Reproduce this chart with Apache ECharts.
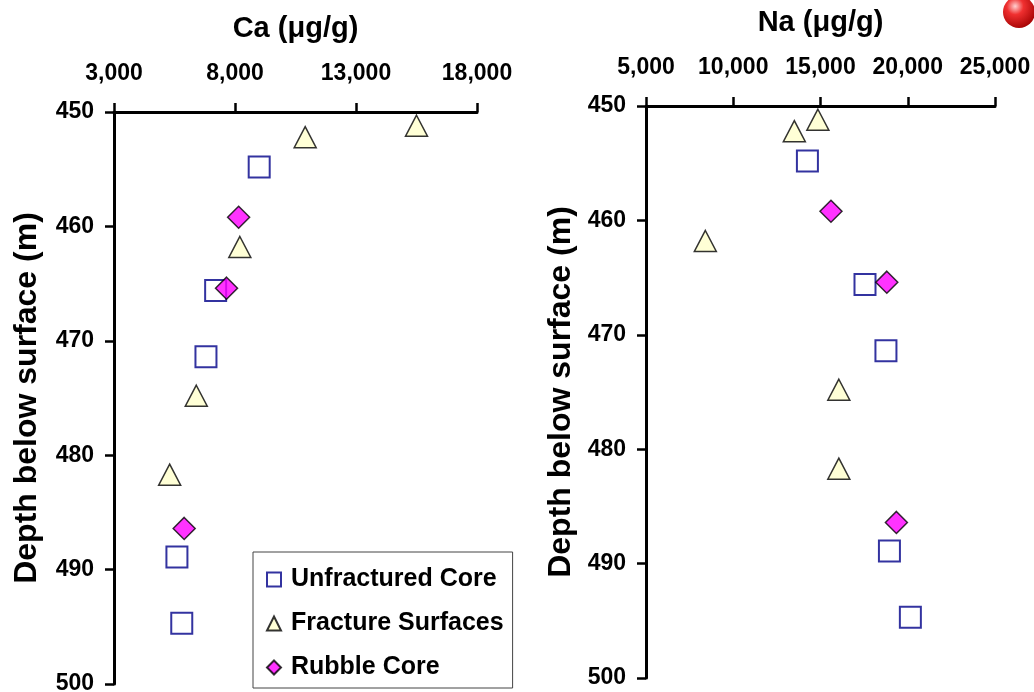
<!DOCTYPE html>
<html>
<head>
<meta charset="utf-8">
<script src="https://cdn.jsdelivr.net/npm/echarts@6/dist/echarts.min.js"></script>
<style>
html,body{margin:0;padding:0;background:#fff;}
#chart{width:1034px;height:692px;}
</style>
</head>
<body>
<div id="chart"></div>
<script>
// Depths (m) of each sample group
const unfracDepth = [454.8, 465.6, 471.4, 488.9, 494.7];
const fracDepth   = [451.2, 452.2, 461.8, 474.8, 481.7];
const rubbleDepth = [459.2, 465.4, 486.4];

// Ca (µg/g)
const unfracCa = [9000, 7200, 6800, 5600, 5800];
const fracCa   = [15500, 10900, 8200, 6400, 5300];
const rubbleCa = [8150, 7650, 5900];

// Na (µg/g)
const unfracNa = [14250, 17550, 18750, 18950, 20150];
const fracNa   = [14850, 13500, 8400, 16050, 16050];
const rubbleNa = [15600, 18800, 19350];

const seriesNames = ['Unfractured Core', 'Fracture Surfaces', 'Rubble Core'];
const caTicks = [3000, 18000, 5000];
const naTicks = [5000, 25000, 5000];
const depthTicks = [450, 500, 10];

const FONT = '"Liberation Sans", Arial, sans-serif';

function pairs(xs, ys) { return xs.map((x, i) => [x, ys[i]]); }

const styles = [
  {symbol: 'rect', symbolSize: 21, itemStyle: {color: '#ffffff', borderColor: '#000088', borderWidth: 2}},
  {symbol: 'triangle', symbolSize: [22, 21], itemStyle: {color: '#ffffcc', borderColor: '#000000', borderWidth: 1.5}},
  {symbol: 'diamond', symbolSize: 22, itemStyle: {color: '#ff00ff', borderColor: '#000000', borderWidth: 1.5}}
];

function xAxis(idx, name, t, gap) {
  return {
    type: 'value', gridIndex: idx, position: 'top',
    min: t[0], max: t[1], interval: t[2],
    name: name, nameLocation: 'middle', nameGap: gap, nameMoveOverlap: false,
    nameTextStyle: {fontFamily: FONT, fontWeight: 'bold', fontSize: 29, color: '#000'},
    axisLine: {show: true, onZero: false, lineStyle: {color: '#000', width: 3}},
    axisTick: {show: true, length: 9, lineStyle: {color: '#000', width: 2.5}},
    axisLabel: {margin: 27, fontFamily: FONT, fontWeight: 'bold', fontSize: 23, color: '#000',
      formatter: v => v.toLocaleString('en-US')},
    splitLine: {show: false}
  };
}
function yAxis(idx, gap) {
  return {
    type: 'value', gridIndex: idx, inverse: true,
    min: depthTicks[0], max: depthTicks[1], interval: depthTicks[2],
    name: 'Depth below surface (m)', nameLocation: 'middle', nameGap: gap, nameRotate: 90, nameMoveOverlap: false,
    nameTextStyle: {fontFamily: FONT, fontWeight: 'bold', fontSize: 32, color: '#000'},
    axisLine: {show: true, onZero: false, lineStyle: {color: '#000', width: 3}},
    axisTick: {show: true, length: 9, lineStyle: {color: '#000', width: 2.5}},
    axisLabel: {margin: 20, fontFamily: FONT, fontWeight: 'bold', fontSize: 23, color: '#000'},
    splitLine: {show: false}
  };
}

const caSets = [pairs(unfracCa, unfracDepth), pairs(fracCa, fracDepth), pairs(rubbleCa, rubbleDepth)];
const naSets = [pairs(unfracNa, unfracDepth), pairs(fracNa, fracDepth), pairs(rubbleNa, rubbleDepth)];

const series = [];
caSets.forEach((d, i) => series.push(Object.assign({type: 'scatter', name: seriesNames[i], xAxisIndex: 0, yAxisIndex: 0, data: d, z: 3 + i}, styles[i])));
naSets.forEach((d, i) => series.push(Object.assign({type: 'scatter', name: seriesNames[i], xAxisIndex: 1, yAxisIndex: 1, data: d, z: 3 + i}, styles[i])));

const chart = echarts.init(document.getElementById('chart'), null, {renderer: 'canvas'});
chart.setOption({
  animation: false,
  backgroundColor: '#fff',
  grid: [
    {left: 114, top: 112, width: 363, height: 572, containLabel: false, outerBoundsMode: 'none'},
    {left: 646, top: 106, width: 349, height: 572, containLabel: false, outerBoundsMode: 'none'}
  ],
  xAxis: [xAxis(0, 'Ca (\u03bcg/g)', caTicks, 69), xAxis(1, 'Na (\u03bcg/g)', naTicks, 69)],
  yAxis: [yAxis(0, 71), yAxis(1, 69)],
  legend: {
    data: seriesNames,
    orient: 'vertical', left: 253, top: 552,
    padding: [15, 9, 8, 13],
    itemGap: 19, itemWidth: 14, itemHeight: 14,
    borderColor: '#444', borderWidth: 1, backgroundColor: '#fff',
    textStyle: {fontFamily: FONT, fontWeight: 'bold', fontSize: 25, color: '#000', padding: [0, 0, 0, 5]}
  },
  graphic: [{
    type: 'circle', shape: {cx: 1019, cy: 12, r: 16}, z: 100,
    style: {fill: new echarts.graphic.RadialGradient(0.38, 0.32, 0.75, [
      {offset: 0, color: '#ffd0d0'}, {offset: 0.35, color: '#f03030'}, {offset: 1, color: '#a00000'}])}
  }],
  series: series
});
</script>
</body>
</html>
